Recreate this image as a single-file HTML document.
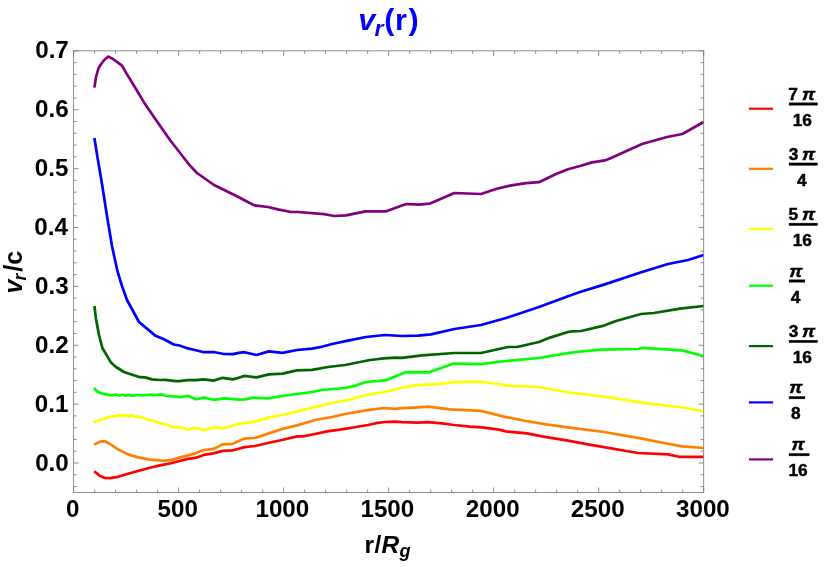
<!DOCTYPE html>
<html><head><meta charset="utf-8"><title>v_r(r)</title>
<style>
html,body{margin:0;padding:0;background:#fff;}
svg{display:block;will-change:transform;}
text{font-family:"Liberation Sans",sans-serif;font-weight:bold;fill:#000;}
</style></head><body>
<svg width="830" height="567" viewBox="0 0 830 567">
<rect width="830" height="567" fill="#fff"/>
<g fill="none" stroke-width="2.7" stroke-linejoin="round" stroke-linecap="butt">
<path d="M94.2 471.2 L100.0 476.0 L105.0 478.0 L110.0 478.2 L118.0 476.8 L128.0 473.8 L138.0 471.0 L150.0 467.8 L160.0 465.4 L170.8 463.2 L179.5 461.0 L187.8 458.9 L193.1 458.2 L197.0 457.4 L203.8 454.9 L213.5 453.4 L222.7 450.9 L232.9 450.3 L238.7 448.7 L244.5 447.1 L255.0 446.0 L268.0 443.0 L282.0 440.0 L297.0 436.4 L303.0 436.4 L315.0 434.0 L327.0 431.4 L340.0 429.6 L356.0 427.0 L368.0 425.0 L376.0 423.2 L385.0 422.0 L395.0 421.6 L402.0 422.2 L418.0 422.6 L428.0 422.2 L442.0 423.4 L454.0 425.0 L470.0 426.6 L482.0 427.4 L499.0 429.6 L506.0 431.4 L527.0 433.4 L542.0 436.4 L568.0 440.6 L588.0 444.4 L638.0 453.0 L668.0 454.4 L679.0 456.8 L703.6 456.8" stroke="#ff0000"/>
<path d="M94.2 444.6 L100.0 441.6 L105.0 441.2 L110.0 444.0 L118.0 449.4 L128.0 454.4 L138.0 457.4 L150.0 459.6 L160.0 460.4 L165.0 460.6 L170.8 460.1 L179.5 457.6 L187.8 455.4 L191.2 454.6 L196.0 453.0 L203.8 450.0 L212.5 449.2 L217.4 447.1 L222.7 444.3 L232.9 443.9 L238.7 441.0 L244.5 438.6 L255.0 438.0 L268.0 433.6 L282.0 429.0 L297.0 425.4 L305.0 423.0 L315.0 420.0 L332.0 417.0 L345.0 414.0 L366.0 410.4 L384.0 408.0 L395.0 408.8 L402.0 408.2 L414.0 407.6 L428.0 406.6 L450.0 409.4 L480.0 410.8 L504.0 416.6 L526.0 421.0 L546.0 424.4 L568.0 427.3 L604.0 432.0 L642.0 438.6 L664.0 443.0 L682.0 446.4 L703.6 448.0" stroke="#ff8000"/>
<path d="M93.8 422.4 L97.8 420.7 L102.6 419.3 L107.5 417.6 L112.3 416.4 L115.4 416.1 L118.6 415.1 L121.5 415.9 L124.9 415.1 L128.8 416.1 L131.7 415.4 L135.6 416.7 L140.0 416.9 L142.9 417.8 L147.2 419.8 L152.1 420.3 L156.9 422.2 L161.8 423.6 L166.6 424.8 L173.7 427.2 L181.0 427.5 L187.8 429.8 L192.2 428.2 L196.0 428.0 L204.3 430.1 L213.5 427.2 L223.2 428.2 L231.0 426.2 L236.8 424.3 L245.0 422.8 L255.0 421.6 L268.0 417.6 L282.0 415.0 L297.0 411.6 L312.0 407.6 L332.0 403.0 L348.0 400.0 L366.0 395.0 L385.0 392.0 L402.0 387.6 L414.0 385.4 L432.0 384.3 L449.0 383.0 L454.0 382.2 L480.0 381.6 L490.0 383.0 L508.0 385.6 L539.0 387.0 L568.0 392.5 L604.0 396.6 L642.0 402.6 L686.0 408.0 L703.6 411.4" stroke="#ffff00"/>
<path d="M94.0 388.0 L96.8 391.2 L99.7 392.8 L104.5 394.2 L109.4 394.9 L112.8 395.3 L115.4 394.5 L119.1 395.5 L122.5 394.8 L125.4 395.6 L128.8 394.9 L132.7 395.7 L137.5 395.0 L142.4 395.5 L146.3 395.0 L151.1 394.7 L156.0 395.0 L161.3 394.4 L164.7 395.5 L167.6 396.0 L172.8 396.4 L181.0 397.1 L187.8 395.7 L196.0 399.3 L204.3 397.6 L213.5 399.8 L224.2 398.4 L232.9 399.1 L238.7 399.7 L245.0 399.4 L253.0 397.6 L268.0 398.4 L282.0 396.0 L297.0 394.0 L312.0 392.0 L322.0 390.0 L345.0 388.0 L356.0 385.6 L360.0 384.0 L366.0 382.0 L385.0 380.4 L402.0 373.8 L406.0 372.2 L429.0 372.3 L453.6 363.5 L481.0 364.1 L506.0 361.0 L539.0 358.0 L568.0 353.2 L576.0 352.0 L601.0 349.6 L638.0 349.0 L642.0 347.8 L682.0 350.4 L703.6 356.0" stroke="#00ff00"/>
<path d="M94.4 306.0 L96.0 319.0 L99.0 335.0 L102.4 348.0 L111.0 362.6 L116.0 367.0 L124.0 372.0 L130.0 374.0 L140.0 377.2 L145.0 377.4 L152.0 379.4 L160.0 380.0 L165.0 379.8 L175.7 381.1 L179.5 381.1 L187.8 380.1 L196.0 380.1 L203.8 379.4 L213.5 380.6 L222.7 377.8 L232.9 379.4 L238.7 377.7 L244.6 375.9 L256.4 377.4 L269.0 374.4 L282.4 373.6 L297.0 370.4 L312.0 369.8 L328.0 367.0 L345.0 365.0 L370.0 360.0 L384.0 358.4 L396.0 357.6 L402.0 357.8 L422.0 355.4 L454.4 353.0 L481.0 353.0 L508.0 347.0 L517.0 347.0 L539.0 342.0 L550.0 337.6 L568.0 332.0 L572.0 331.4 L581.0 331.0 L604.0 325.6 L616.0 321.0 L641.0 314.0 L654.0 313.0 L680.0 308.6 L703.6 306.0" stroke="#006400"/>
<path d="M94.4 138.0 L97.6 158.0 L102.0 184.0 L107.0 216.0 L112.0 246.0 L117.4 271.0 L122.0 286.0 L127.0 300.0 L139.0 322.0 L155.0 335.4 L165.0 339.8 L173.7 344.5 L179.5 345.5 L187.8 348.4 L196.0 350.3 L203.8 352.2 L213.5 352.0 L222.7 353.8 L232.9 354.1 L238.7 352.9 L244.6 352.2 L256.4 355.0 L269.0 351.4 L282.4 352.8 L297.0 350.0 L312.0 348.6 L320.0 347.2 L332.0 344.0 L348.0 340.6 L366.0 337.0 L385.0 335.0 L402.0 336.0 L418.0 335.6 L431.0 334.4 L454.4 329.0 L481.0 325.0 L506.0 318.0 L539.0 307.0 L568.0 296.2 L580.0 292.0 L604.0 284.6 L642.0 272.0 L668.0 264.0 L688.0 260.0 L703.6 255.0" stroke="#0000ff"/>
<path d="M94.4 87.6 L96.0 77.0 L98.4 68.6 L100.4 65.0 L104.4 59.8 L108.4 56.6 L113.0 59.0 L118.0 62.6 L122.0 65.6 L126.0 72.6 L136.0 89.0 L144.0 102.4 L156.0 120.0 L170.0 140.0 L184.0 158.0 L190.0 165.6 L197.0 173.0 L214.0 185.0 L236.0 195.8 L244.0 200.0 L254.4 205.4 L268.0 207.0 L279.0 209.6 L291.0 212.0 L298.0 212.0 L324.0 214.2 L334.4 216.0 L346.0 215.4 L365.6 211.4 L385.6 211.4 L402.0 205.6 L406.4 204.0 L419.0 204.6 L430.0 203.6 L454.4 193.0 L481.0 194.0 L496.0 189.0 L510.0 185.6 L526.0 183.2 L539.0 182.2 L556.0 174.0 L568.0 169.2 L580.0 166.0 L592.0 162.4 L605.0 160.4 L611.0 158.0 L642.0 144.0 L667.0 137.0 L682.4 134.0 L703.6 122.0" stroke="#800080"/>
</g>
<g fill="none" stroke="#7a7a7a" stroke-width="0.85">
<rect x="73.60" y="50.85" width="630.10" height="441.65"/>
<path d="M73.60 492.50 v-5.0 M73.60 50.85 v5.0 M94.60 492.50 v-3.0 M94.60 50.85 v3.0 M115.61 492.50 v-3.0 M115.61 50.85 v3.0 M136.61 492.50 v-3.0 M136.61 50.85 v3.0 M157.61 492.50 v-3.0 M157.61 50.85 v3.0 M178.62 492.50 v-5.0 M178.62 50.85 v5.0 M199.62 492.50 v-3.0 M199.62 50.85 v3.0 M220.62 492.50 v-3.0 M220.62 50.85 v3.0 M241.63 492.50 v-3.0 M241.63 50.85 v3.0 M262.63 492.50 v-3.0 M262.63 50.85 v3.0 M283.63 492.50 v-5.0 M283.63 50.85 v5.0 M304.64 492.50 v-3.0 M304.64 50.85 v3.0 M325.64 492.50 v-3.0 M325.64 50.85 v3.0 M346.64 492.50 v-3.0 M346.64 50.85 v3.0 M367.65 492.50 v-3.0 M367.65 50.85 v3.0 M388.65 492.50 v-5.0 M388.65 50.85 v5.0 M409.65 492.50 v-3.0 M409.65 50.85 v3.0 M430.66 492.50 v-3.0 M430.66 50.85 v3.0 M451.66 492.50 v-3.0 M451.66 50.85 v3.0 M472.66 492.50 v-3.0 M472.66 50.85 v3.0 M493.67 492.50 v-5.0 M493.67 50.85 v5.0 M514.67 492.50 v-3.0 M514.67 50.85 v3.0 M535.67 492.50 v-3.0 M535.67 50.85 v3.0 M556.68 492.50 v-3.0 M556.68 50.85 v3.0 M577.68 492.50 v-3.0 M577.68 50.85 v3.0 M598.68 492.50 v-5.0 M598.68 50.85 v5.0 M619.69 492.50 v-3.0 M619.69 50.85 v3.0 M640.69 492.50 v-3.0 M640.69 50.85 v3.0 M661.69 492.50 v-3.0 M661.69 50.85 v3.0 M682.70 492.50 v-3.0 M682.70 50.85 v3.0 M703.70 492.50 v-5.0 M703.70 50.85 v5.0 M73.60 486.55 h3.0 M703.70 486.55 h-3.0 M73.60 474.78 h3.0 M703.70 474.78 h-3.0 M73.60 463.00 h5.0 M703.70 463.00 h-5.0 M73.60 451.22 h3.0 M703.70 451.22 h-3.0 M73.60 439.45 h3.0 M703.70 439.45 h-3.0 M73.60 427.67 h3.0 M703.70 427.67 h-3.0 M73.60 415.90 h3.0 M703.70 415.90 h-3.0 M73.60 404.12 h5.0 M703.70 404.12 h-5.0 M73.60 392.35 h3.0 M703.70 392.35 h-3.0 M73.60 380.57 h3.0 M703.70 380.57 h-3.0 M73.60 368.79 h3.0 M703.70 368.79 h-3.0 M73.60 357.02 h3.0 M703.70 357.02 h-3.0 M73.60 345.24 h5.0 M703.70 345.24 h-5.0 M73.60 333.47 h3.0 M703.70 333.47 h-3.0 M73.60 321.69 h3.0 M703.70 321.69 h-3.0 M73.60 309.92 h3.0 M703.70 309.92 h-3.0 M73.60 298.14 h3.0 M703.70 298.14 h-3.0 M73.60 286.36 h5.0 M703.70 286.36 h-5.0 M73.60 274.59 h3.0 M703.70 274.59 h-3.0 M73.60 262.81 h3.0 M703.70 262.81 h-3.0 M73.60 251.04 h3.0 M703.70 251.04 h-3.0 M73.60 239.26 h3.0 M703.70 239.26 h-3.0 M73.60 227.49 h5.0 M703.70 227.49 h-5.0 M73.60 215.71 h3.0 M703.70 215.71 h-3.0 M73.60 203.93 h3.0 M703.70 203.93 h-3.0 M73.60 192.16 h3.0 M703.70 192.16 h-3.0 M73.60 180.38 h3.0 M703.70 180.38 h-3.0 M73.60 168.61 h5.0 M703.70 168.61 h-5.0 M73.60 156.83 h3.0 M703.70 156.83 h-3.0 M73.60 145.06 h3.0 M703.70 145.06 h-3.0 M73.60 133.28 h3.0 M703.70 133.28 h-3.0 M73.60 121.50 h3.0 M703.70 121.50 h-3.0 M73.60 109.73 h5.0 M703.70 109.73 h-5.0 M73.60 97.95 h3.0 M703.70 97.95 h-3.0 M73.60 86.18 h3.0 M703.70 86.18 h-3.0 M73.60 74.40 h3.0 M703.70 74.40 h-3.0 M73.60 62.63 h3.0 M703.70 62.63 h-3.0 M73.60 50.85 h5.0 M703.70 50.85 h-5.0"/>
</g>
<text x="35.13" y="470.50" font-size="24.2">0.0</text>
<text x="34.82" y="411.62" font-size="24.2">0.1</text>
<text x="35.11" y="352.74" font-size="24.2">0.2</text>
<text x="35.01" y="293.86" font-size="24.2">0.3</text>
<text x="34.28" y="234.99" font-size="24.2">0.4</text>
<text x="34.82" y="176.11" font-size="24.2">0.5</text>
<text x="35.01" y="117.23" font-size="24.2">0.6</text>
<text x="35.20" y="58.35" font-size="24.2">0.7</text>
<text x="65.88" y="516.90" font-size="24.2">0</text>
<text x="157.55" y="516.90" font-size="24.2">500</text>
<text x="255.46" y="516.90" font-size="24.2">1000</text>
<text x="360.47" y="516.90" font-size="24.2">1500</text>
<text x="465.83" y="516.90" font-size="24.2">2000</text>
<text x="570.85" y="516.90" font-size="24.2">2500</text>
<text x="676.01" y="516.90" font-size="24.2">3000</text>
<text x="364.61" y="552.60" font-size="24.5">r</text>
<text x="374.39" y="552.60" font-size="24.5">/</text>
<text x="381.52" y="552.60" font-size="24.5" font-style="italic">R</text>
<text x="399.39" y="557.20" font-size="18" font-style="italic">g</text>
<text transform="translate(21.80,293.49) rotate(-90)" font-size="25" font-style="italic">v</text>
<text transform="translate(26.00,280.45) rotate(-90)" font-size="17.5" font-style="italic">r</text>
<text transform="translate(21.80,271.78) rotate(-90)" font-size="25">/</text>
<text transform="translate(21.80,264.82) rotate(-90)" font-size="25">c</text>
<text transform="translate(358.28,29.80) scale(1.045,1)" font-size="29.3" font-style="italic" style="fill:#0000ff">v</text>
<text transform="translate(374.50,35.50) scale(1.060,1)" font-size="22" font-style="italic" style="fill:#0000ff">r</text>
<text transform="translate(384.37,29.80) scale(1.045,1)" font-size="29.3" style="fill:#0000ff">(</text>
<text transform="translate(395.01,29.80) scale(1.045,1)" font-size="29.3" style="fill:#0000ff">r</text>
<text transform="translate(408.44,29.80) scale(1.045,1)" font-size="29.3" style="fill:#0000ff">)</text>
<g stroke="#000" stroke-width="0.45">
<path d="M748.9 108.7 H773.1" stroke="#ff0000" stroke-width="2.2" fill="none"/>
<text x="788.37" y="99.50" font-size="17.3">7</text>
<text transform="translate(802.11,99.50) scale(1.070,1)" font-size="17.3" font-style="italic">π</text>
<rect x="789.10" y="102.85" width="28.40" height="2.3" fill="#000"/>
<text x="792.70" y="125.70" font-size="17.3">16</text>
<path d="M748.9 168.8 H773.1" stroke="#ff8000" stroke-width="2.2" fill="none"/>
<text x="788.72" y="159.60" font-size="17.3">3</text>
<text transform="translate(802.11,159.60) scale(1.070,1)" font-size="17.3" font-style="italic">π</text>
<rect x="789.10" y="162.95" width="28.40" height="2.3" fill="#000"/>
<text x="797.10" y="185.80" font-size="17.3">4</text>
<path d="M748.9 229.0 H773.1" stroke="#ffff00" stroke-width="2.2" fill="none"/>
<text x="788.58" y="219.80" font-size="17.3">5</text>
<text transform="translate(802.11,219.80) scale(1.070,1)" font-size="17.3" font-style="italic">π</text>
<rect x="789.10" y="223.15" width="28.40" height="2.3" fill="#000"/>
<text x="792.70" y="246.00" font-size="17.3">16</text>
<path d="M748.9 285.7 H773.1" stroke="#00ff00" stroke-width="2.2" fill="none"/>
<text transform="translate(789.22,276.50) scale(1.070,1)" font-size="17.3" font-style="italic">π</text>
<rect x="789.10" y="279.85" width="15.80" height="2.3" fill="#000"/>
<text x="790.80" y="302.70" font-size="17.3">4</text>
<path d="M748.9 346.1 H773.1" stroke="#006400" stroke-width="2.2" fill="none"/>
<text x="788.72" y="336.90" font-size="17.3">3</text>
<text transform="translate(802.11,336.90) scale(1.070,1)" font-size="17.3" font-style="italic">π</text>
<rect x="789.10" y="340.25" width="28.40" height="2.3" fill="#000"/>
<text x="792.70" y="363.10" font-size="17.3">16</text>
<path d="M748.9 402.4 H773.1" stroke="#0000ff" stroke-width="2.2" fill="none"/>
<text transform="translate(789.22,393.20) scale(1.070,1)" font-size="17.3" font-style="italic">π</text>
<rect x="789.10" y="396.55" width="15.80" height="2.3" fill="#000"/>
<text x="790.88" y="419.40" font-size="17.3">8</text>
<path d="M748.9 459.4 H773.1" stroke="#800080" stroke-width="2.2" fill="none"/>
<text transform="translate(791.52,450.20) scale(1.070,1)" font-size="17.3" font-style="italic">π</text>
<rect x="789.10" y="453.55" width="20.00" height="2.3" fill="#000"/>
<text x="788.50" y="476.40" font-size="17.3">16</text>
</g>
</svg>
</body></html>
